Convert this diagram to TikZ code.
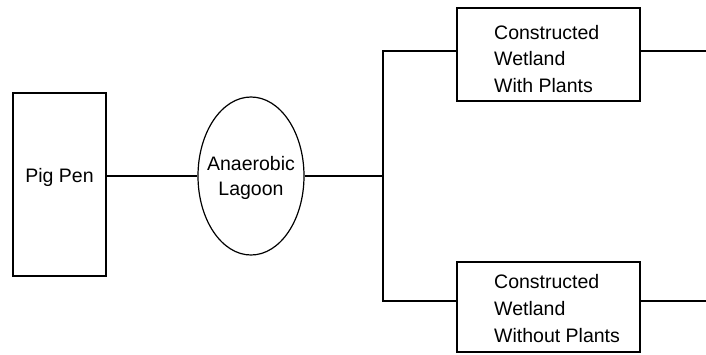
\documentclass[tikz,border=0pt]{standalone}
\usepackage{fontspec}
\setmainfont{Liberation Sans}
\usetikzlibrary{shapes.geometric}
\begin{document}
\begin{tikzpicture}[x=1pt,y=-1pt,
  line/.style={line width=1.2pt,black},
  stage/.style={draw,line width=1.2pt,inner sep=0pt},
  txt/.style={inner sep=0pt,font=\fontsize{19.5}{25}\selectfont},
  wettxt/.style={txt,anchor=west,align=left,font=\fontsize{19.5}{26.7}\selectfont}]
\useasboundingbox (0,0) rectangle (706,354);
% boxes
\node[stage,minimum width=93pt,minimum height=183pt] (pig) at (59.5,184.5) {};
\node[stage,ellipse,minimum width=106pt,minimum height=158pt] (lag) at (251,176) {};
\node[stage,minimum width=183pt,minimum height=93pt] (w1) at (548.5,54.5) {};
\node[stage,minimum width=183pt,minimum height=90pt] (w2) at (548.5,307) {};
% texts
\node[txt] (pigt) at (59.5,177) {Pig Pen};
\node[txt,align=center] (lagt) at (251,178) {Anaerobic\\Lagoon};
\node[wettxt] (w1t) at (494,59) {Constructed\\Wetland\\With Plants};
\node[wettxt] (w2t) at (494,308.5) {Constructed\\Wetland\\Without Plants};
% connectors
\coordinate (j) at (383,176);
\coordinate (j1) at (383,51);
\coordinate (j2) at (383,301);
\coordinate (o1) at (706,51);
\coordinate (o2) at (706,301);
\draw[line] (lag.west -| pig.east) -- (lag.west);
\draw[line] (lag.east) -- (j);
\draw[line] (w1.west |- j1) -- (j1) -- (j2) -- (w2.west |- j2);
\draw[line] (w1.east |- o1) -- (o1);
\draw[line] (w2.east |- o2) -- (o2);
\end{tikzpicture}
\end{document}
